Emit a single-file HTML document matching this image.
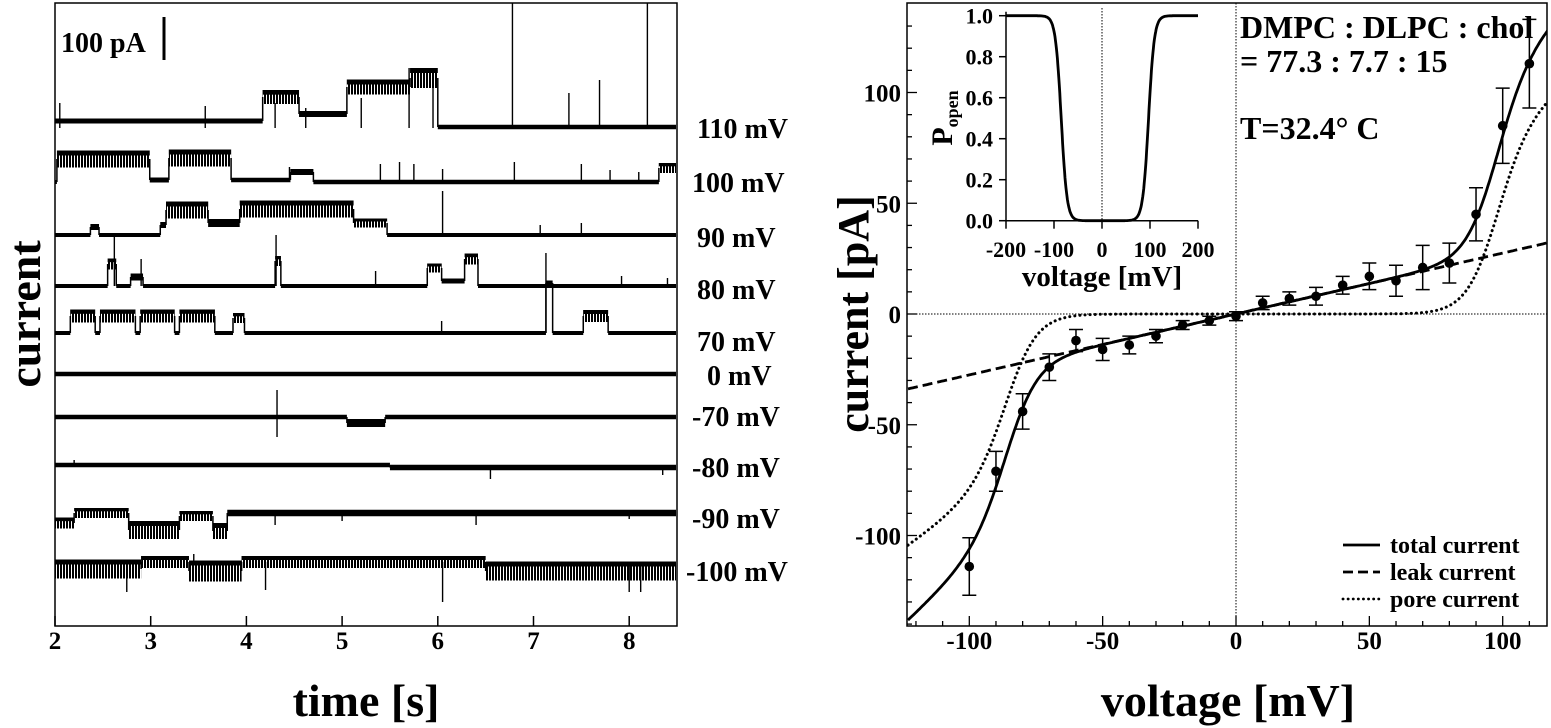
<!DOCTYPE html>
<html><head><meta charset="utf-8">
<style>
html,body{margin:0;padding:0;background:#fff;}
svg{display:block;font-family:"Liberation Serif",serif;font-weight:bold;}
</style></head>
<body>
<svg id="fig" width="1551" height="728" viewBox="0 0 1551 728">
  <defs>
    <pattern id="flick" width="3" height="10" patternUnits="userSpaceOnUse">
      <rect x="0" y="0" width="2" height="10" fill="#000"/>
    </pattern>
  </defs>
  <g id="left"></g>
  <g id="right"></g>
</svg>
<script>
// ---------- Left panel data (times in s, currents in pA) ----------
const traceLabels = ["110 mV","100 mV","90 mV","80 mV","70 mV","0 mV","-70 mV","-80 mV","-90 mV","-100 mV"];
// segments: [t0, t1, level pA, noise band pA]
const seg110 = [[2.0,4.17,14,10],[4.17,4.55,62,28],[4.55,5.05,28,12],[5.05,5.71,82,30],[5.71,6.0,100,40],[6.0,8.5,2,9]];
const seg100 = [[2.0,2.02,0,8],[2.02,2.99,46,34],[2.99,3.19,4,10],[3.19,3.84,48,34],[3.84,4.46,4,9],[4.46,4.7,20,12],[4.7,8.31,0,9],[8.31,8.5,28,20]];
const seg90 = [[2.0,2.37,0,8],[2.37,2.46,16,12],[2.46,3.1,0,8],[3.1,3.16,20,12],[3.16,3.6,50,34],[3.6,3.93,24,16],[3.93,5.12,52,34],[5.12,5.47,24,18],[5.47,8.5,0,8]];
const seg80 = [[2.0,2.55,0,8],[2.55,2.64,44,22],[2.64,2.79,0,8],[2.79,2.92,18,14],[2.92,4.3,0,8],[4.3,4.36,50,20],[4.36,5.89,0,8],[5.89,6.04,36,18],[6.04,6.28,10,10],[6.28,6.42,54,22],[6.42,8.5,0,8]];
const seg70 = [[2.0,2.16,0,8],[2.16,2.42,34,26],[2.42,2.47,0,8],[2.47,2.84,34,26],[2.84,2.89,0,8],[2.89,3.25,34,26],[3.25,3.3,0,8],[3.3,3.67,34,26],[3.67,3.86,0,8],[3.86,3.98,30,20],[3.98,7.13,0,8],[7.13,7.2,100,10],[7.2,7.52,0,8],[7.52,7.78,34,24],[7.78,8.5,0,8]];
const seg0 = [[2.0,8.5,0,9]];
const segM70 = [[2.0,5.05,0,9],[5.05,5.45,-12,16],[5.45,8.5,0,9]];
const segM80 = [[2.0,5.5,0,9],[5.5,8.5,-5,11]];
const segM90 = [[2.0,2.2,-20,22],[2.2,2.77,0,20],[2.77,3.3,-34,36],[3.3,3.65,-6,20],[3.65,3.8,-36,32],[3.8,8.5,0,13]];
const segM100 = [[2.0,2.9,-14,38],[2.9,3.4,0,24],[3.4,3.95,-18,42],[3.95,6.5,0,24],[6.5,8.5,-18,38]];
// spikes: [t, peak pA relative to baseline]
const spk110 = [[2.05,50],[3.57,44],[4.3,50],[4.62,40],[5.2,60],[5.7,120],[5.95,116],[6.78,250],[7.37,70],[7.69,96],[8.19,250]];
const spk100 = [[4.45,30],[5.4,36],[5.6,40],[5.75,36],[6.05,26],[6.8,40],[7.5,36],[7.8,24],[8.1,20]];
const spk90 = [[6.05,88],[7.07,20],[7.5,24]];
const spk80 = [[2.62,106],[2.9,54],[4.31,102],[5.35,30],[7.92,20],[8.4,16]];
const spk70 = [[6.04,24],[7.13,160]];
const spk0 = [];
const spkM70 = [[4.32,54],[4.32,-40]];
const spkM80 = [[6.55,-28],[8.35,-20],[2.2,10]];
const spkM90 = [[4.3,-24],[6.4,-24],[5.0,-16],[8.0,-12]];
const spkM100 = [[2.75,-60],[4.2,-56],[6.05,-80],[8.0,-60],[8.12,-60],[3.45,16]];
const timeTicks = [2,3,4,5,6,7,8];

// ---------- Right panel data ----------
const voltages = [-100,-90,-80,-70,-60,-50,-40,-30,-20,-10,0,10,20,30,40,50,60,70,80,90,100,110];
const currents = [-114,-71,-44,-24,-12,-16,-14,-10,-5,-3,-1,5,7,8,13,17,15,21,23,45,85,113];
const errors = [13,9,8,6,5,5,4,3,2,2,2,3,3,4,4,6,7,10,9,12,17,20];
const vTicks = [-100,-50,0,50,100];
const iTicks = [-100,-50,0,50,100];
const insetXTicks = [-200,-100,0,100,200];
const insetYTicks = [0,0.2,0.4,0.6,0.8,1.0];
const fitLeak = [0.275];
const fitPore = [0.85, -85, 97, 6];

const NS = "http://www.w3.org/2000/svg";
function el(tag, attrs, parent){const e=document.createElementNS(NS,tag);for(const k in attrs)e.setAttribute(k,attrs[k]);parent.appendChild(e);return e;}
function txt(s, attrs, parent){const e=el("text",attrs,parent);e.textContent=s;return e;}

// ===== Left panel =====
const L = document.getElementById("left");
const tx = t => 55 + (t-2)*95.7;
const K = 0.5;
const baselines = [128,182,235,286,333,374,417,465,513,562];
const segs = [seg110,seg100,seg90,seg80,seg70,seg0,segM70,segM80,segM90,segM100];
const spks = [spk110,spk100,spk90,spk80,spk70,spk0,spkM70,spkM80,spkM90,spkM100];
const labelY = [128,182,237,289,341,375,416,467,518,571];
const labelX = [697,692,697,697,697,707,692,692,692,686];
let frame = el("rect",{x:55,y:3,width:622,height:623,fill:"none",stroke:"#000","stroke-width":1.5},L);


segs.forEach((sg,i)=>{
  const g = el("g",{},L);
  
  
  const b = baselines[i];
  let d = "";
  sg.forEach((s,j)=>{
    const x0=tx(s[0]), x1=Math.min(tx(s[1]),676), y=b - s[2]*K, h=Math.max(s[3]*K,2);
    const big = s[3]>=18;
    const r = el("rect",{x:x0,y:y-h/2,width:x1-x0,height:h,fill:big?"url(#flick)":"#000"},g);
    
    
    if(big){
      const c = el("rect",{x:x0,y:y-h/2,width:x1-x0,height:Math.min(5,h/3),fill:"#000"},g);
      
      
    }
    if(j>0){ const prev=sg[j-1]; d+=`M${x0},${b-prev[2]*K}L${x0},${y}`; }
  });
  el("path",{d:d,stroke:"#000","stroke-width":1.5,fill:"none"},g);
  spks[i].forEach(s=>{
    const x=tx(s[0]);
    const ln = el("line",{x1:x,x2:x,y1:b,y2:Math.max(3,b-s[1]*K),stroke:"#000","stroke-width":1.4},g);
    
    
  });
  const lab = txt(traceLabels[i],{x:labelX[i],y:labelY[i]+10,"font-size":28},L);
  
  
});
const sbT = txt("100 pA",{x:61,y:52,"font-size":28},L);


const sb = el("line",{x1:164,x2:164,y1:17,y2:60,stroke:"#000","stroke-width":3},L);


timeTicks.forEach(t=>{
  const x=tx(t);
  el("line",{x1:x,x2:x,y1:626,y2:616,stroke:"#000","stroke-width":1.5},L);
  const tl = txt(String(t),{x:x,y:649,"font-size":25,"text-anchor":"middle"},L);
  
  
});
const xt = txt("time [s]",{x:366,y:716,"font-size":46,"text-anchor":"middle"},L);


const yt = txt("current",{x:0,y:0,"font-size":46,"text-anchor":"middle",transform:"translate(40,314) rotate(-90)"},L);



// ===== Right panel =====
const R = document.getElementById("right");
const vx = v => 1236 + v*2.667;
const iy = c => 314 - c*2.215;
const Popen = v => 1/(1+Math.exp((v-fitPore[1])/fitPore[3])) + 1/(1+Math.exp(-(v-fitPore[2])/fitPore[3]));
const pore = v => fitPore[0]*v*Popen(v);
const leak = v => fitLeak[0]*v;
const rf = el("rect",{x:907,y:3,width:640,height:623,fill:"none",stroke:"#000","stroke-width":1.5},R);


el("line",{x1:907,x2:1547,y1:iy(0),y2:iy(0),stroke:"#000","stroke-width":1,"stroke-dasharray":"1.5,1.5"},R);
el("line",{x1:vx(0),x2:vx(0),y1:3,y2:626,stroke:"#000","stroke-width":1,"stroke-dasharray":"1.5,1.5"},R);
for(let c=-140;c<=140;c+=10){const y=iy(c); if(y<4||y>625)continue; el("line",{x1:907,x2:c%50===0?917:912,y1:y,y2:y,stroke:"#000","stroke-width":1.3},R);}
for(let v=-120;v<=110;v+=10){const x=vx(v); if(x<908)continue; el("line",{x1:x,x2:x,y1:626,y2:v%50===0?616:621,stroke:"#000","stroke-width":1.3},R);}
iTicks.forEach(c=>{const t=txt(String(c),{x:901,y:iy(c)+9,"font-size":25,"text-anchor":"end"},R);
  
  });
vTicks.forEach(v=>{const t=txt(String(v),{x:vx(v),y:649,"font-size":25,"text-anchor":"middle"},R);
  
  });
const rxt = txt("voltage [mV]",{x:1228,y:716,"font-size":46,"text-anchor":"middle"},R);


const ryt = txt("current [pA]",{x:0,y:0,"font-size":44,"text-anchor":"middle",transform:"translate(868,314) rotate(-90)"},R);


const defs = el("defs",{},R);
const cp = el("clipPath",{id:"ivclip"},defs);
el("rect",{x:907,y:3,width:640,height:623},cp);
function curve(f, dash, name){
  let d="";
  for(let v=-123;v<=117;v+=0.5){d+=(d?"L":"M")+vx(v).toFixed(1)+","+iy(f(v)).toFixed(1);}
  const p = el("path",{d:d,fill:"none",stroke:"#000","stroke-width":dash==="dot"?3:2.8,"clip-path":"url(#ivclip)"},R);
  if(dash==="dash")p.setAttribute("stroke-dasharray","10,5");
  if(dash==="dot"){p.setAttribute("stroke-dasharray","0.1,5");p.setAttribute("stroke-linecap","round");}
  
  
}
curve(leak,"dash","leak-current-line");
curve(pore,"dot","pore-current-line");
curve(v=>leak(v)+pore(v),"solid","total-current-line");
voltages.forEach((v,i)=>{
  const x=vx(v), y=iy(currents[i]), e=errors[i];
  const g = el("g",{},R);
  
  
  el("path",{d:`M${x},${iy(currents[i]-e)}L${x},${iy(currents[i]+e)}M${x-7},${iy(currents[i]-e)}L${x+7},${iy(currents[i]-e)}M${x-7},${iy(currents[i]+e)}L${x+7},${iy(currents[i]+e)}`,stroke:"#000","stroke-width":1.5,fill:"none"},g);
  el("circle",{cx:x,cy:y,r:4.8,fill:"#000"},g);
});
[["DMPC : DLPC : chol",1240,38],["= 77.3 : 7.7 : 15",1240,72],["T=32.4° C",1240,139]].forEach(a=>{
  const t=txt(a[0],{x:a[1],y:a[2],"font-size":32},R);
  
  
});
[["total current","none"],["leak current","10,5"],["pore current","0.1,5"]].forEach((l,i)=>{
  const y=545+i*27;
  const g=el("g",{},R);
  
  
  const ln=el("line",{x1:1343,x2:1380,y1:y,y2:y,stroke:"#000","stroke-width":2.8},g);
  if(l[1]!=="none")ln.setAttribute("stroke-dasharray",l[1]);
  if(i===2)ln.setAttribute("stroke-linecap","round");
  txt(l[0],{x:1390,y:y+8,"font-size":24},g);
});
// inset
const ix = v => 1102 + v*0.48;
const py = p => 220.7 - p*205;
const I = el("g",{},R);


el("rect",{x:930,y:5,width:290,height:290,fill:"#fff"},I);
el("line",{x1:ix(0),x2:ix(0),y1:8,y2:py(0),stroke:"#000","stroke-width":1,"stroke-dasharray":"1.5,1.5"},I);
el("path",{d:`M${ix(-200)},${py(1.0)-4}L${ix(-200)},${py(0)}L${ix(200)},${py(0)}`,stroke:"#000","stroke-width":1.5,fill:"none"},I);
insetYTicks.forEach(p=>{el("line",{x1:ix(-200)-7,x2:ix(-200),y1:py(p),y2:py(p),stroke:"#000","stroke-width":1.5},I);
  const t=txt(p.toFixed(1),{x:993,y:py(p)+8,"font-size":22,"text-anchor":"end"},I);
  
  });
insetXTicks.forEach(v=>{el("line",{x1:ix(v),x2:ix(v),y1:py(0),y2:py(0)+8,stroke:"#000","stroke-width":1.5},I);
  const t=txt(String(v),{x:ix(v),y:257,"font-size":22,"text-anchor":"middle"},I);
  
  });
let pd="";
for(let v=-200;v<=200;v+=1){pd+=(pd?"L":"M")+ix(v).toFixed(1)+","+py(Popen(v)).toFixed(1);}
const pc=el("path",{d:pd,stroke:"#000","stroke-width":2.8,fill:"none"},I);


const ixt=txt("voltage [mV]",{x:1102,y:286,"font-size":29,"text-anchor":"middle"},I);


const iyt=el("text",{x:0,y:0,"font-size":30,"text-anchor":"middle",transform:"translate(952,118) rotate(-90)"},I);
iyt.innerHTML='P<tspan font-size="18" dy="6">open</tspan>';


</script>
</body></html>
